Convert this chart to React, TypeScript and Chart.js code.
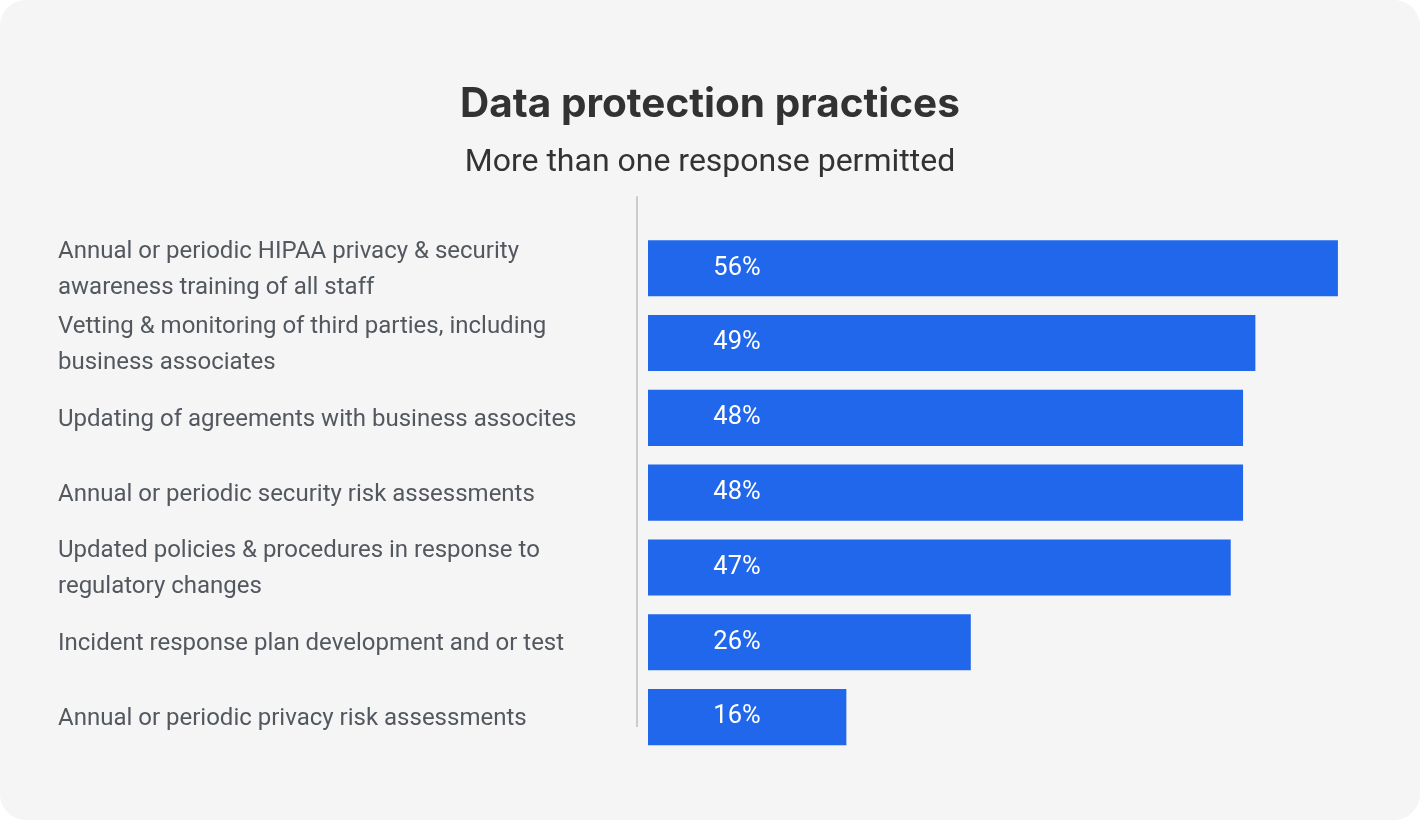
import React, { useEffect, useRef } from "react";
import { Chart, registerables } from "chart.js";

Chart.register(...registerables);

const categories: (string | string[])[] = [
  ["Annual or periodic HIPAA privacy & security", "awareness training of all staff"],
  ["Vetting & monitoring of third parties, including", "business associates"],
  "Updating of agreements with business assocites",
  "Annual or periodic security risk assessments",
  ["Updated policies & procedures in response to", "regulatory changes"],
  "Incident response plan development and or test",
  "Annual or periodic privacy risk assessments",
];
const values: number[] = [56, 49.3, 48.3, 48.3, 47.3, 26.2, 16.1];
const titleText = "Data protection practices";
const subtitleText = "More than one response permitted";

const FONT = "Roboto, 'Noto Sans', sans-serif";
const TITLE_FONT = "Inter, Roboto, sans-serif";
const BAR_COLOR = "#2167ec";

const valueLabelPlugin = {
  id: "valueLabels",
  afterDatasetsDraw(chart: any) {
    const ctx = chart.ctx;
    const meta = chart.getDatasetMeta(0);
    ctx.save();
    ctx.fillStyle = "#ffffff";
    ctx.font = `400 25.5px ${FONT}`;
    ctx.textAlign = "center";
    ctx.textBaseline = "middle";
    meta.data.forEach((el: any, i: number) => {
      const v = values[i];
      ctx.fillText(`${Math.round(v)}%`, el.base + 89, el.y);
    });
    ctx.restore();
  },
};

const axisLinePlugin = {
  id: "axisLine",
  afterLayout(chart: any) {
    const y = chart.scales.y;
    // tick labels start at x=58 while the title stays centred on the card
    y.left = 58;
    y._labelShifted = false;
  },
  beforeDraw(chart: any) {
    const y = chart.scales.y;
    if (!y._labelShifted) {
      y.top += 2;
      y.bottom += 2;
      y.configure();
      y._labelShifted = true;
    }
  },
  beforeDatasetsDraw(chart: any) {
    const { ctx, chartArea } = chart;
    ctx.save();
    ctx.strokeStyle = "#cbcbcb";
    ctx.lineWidth = 2;
    ctx.beginPath();
    const x = chartArea.left - 11;
    ctx.moveTo(x, chartArea.top - 34.5);
    ctx.lineTo(x, chartArea.bottom - 27.5);
    ctx.stroke();
    ctx.restore();
  },
};

export default function App() {
  const ref = useRef<HTMLCanvasElement | null>(null);
  useEffect(() => {
    document.body.style.margin = "0";
    const chart = new Chart(ref.current as HTMLCanvasElement, {
      type: "bar",
      data: {
        labels: categories,
        datasets: [
          {
            data: values,
            backgroundColor: BAR_COLOR,
            borderWidth: 0,
            barPercentage: 0.75,
            categoryPercentage: 1,
          },
        ],
      },
      options: {
        indexAxis: "y",
        responsive: false,
        animation: false,
        events: [],
        layout: { padding: { top: 0, left: 32.8, right: 32.8, bottom: 65.5 } },
        plugins: {
          legend: { display: false },
          tooltip: { enabled: false },
          title: {
            display: true,
            text: titleText,
            color: "#323232",
            font: { family: TITLE_FONT, size: 40.5, weight: "bold", lineHeight: 1.2 },
            padding: { top: 81, bottom: 0 },
          },
          subtitle: {
            display: true,
            text: subtitleText,
            color: "#333333",
            font: { family: FONT, size: 32, weight: "normal", lineHeight: 1.2 },
            padding: { top: 14.5, bottom: 48.3 },
          },
        },
        scales: {
          x: {
            display: false,
            min: 0,
            max: 60,
          },
          y: {
            grid: { display: false },
            border: { display: false },
            ticks: {
              autoSkip: false,
              crossAlign: "far",
              color: "#53585f",
              font: { family: FONT, size: 24, lineHeight: 1.5 },
              padding: 0,
            },
            afterFit(axis: any) {
              axis.width = 648 - 32.8;
            },
          },
        },
      },
      plugins: [valueLabelPlugin, axisLinePlugin],
    } as any);
    return () => chart.destroy();
  }, []);

  return (
    <div style={{ position: "fixed", left: 0, top: 0, width: 1420, height: 820, background: "#ffffff" }}>
      <div style={{ width: 1420, height: 820, borderRadius: 26, background: "#f5f5f5", overflow: "hidden" }}>
        <canvas ref={ref} width={1420} height={820} style={{ display: "block" }} />
      </div>
    </div>
  );
}
